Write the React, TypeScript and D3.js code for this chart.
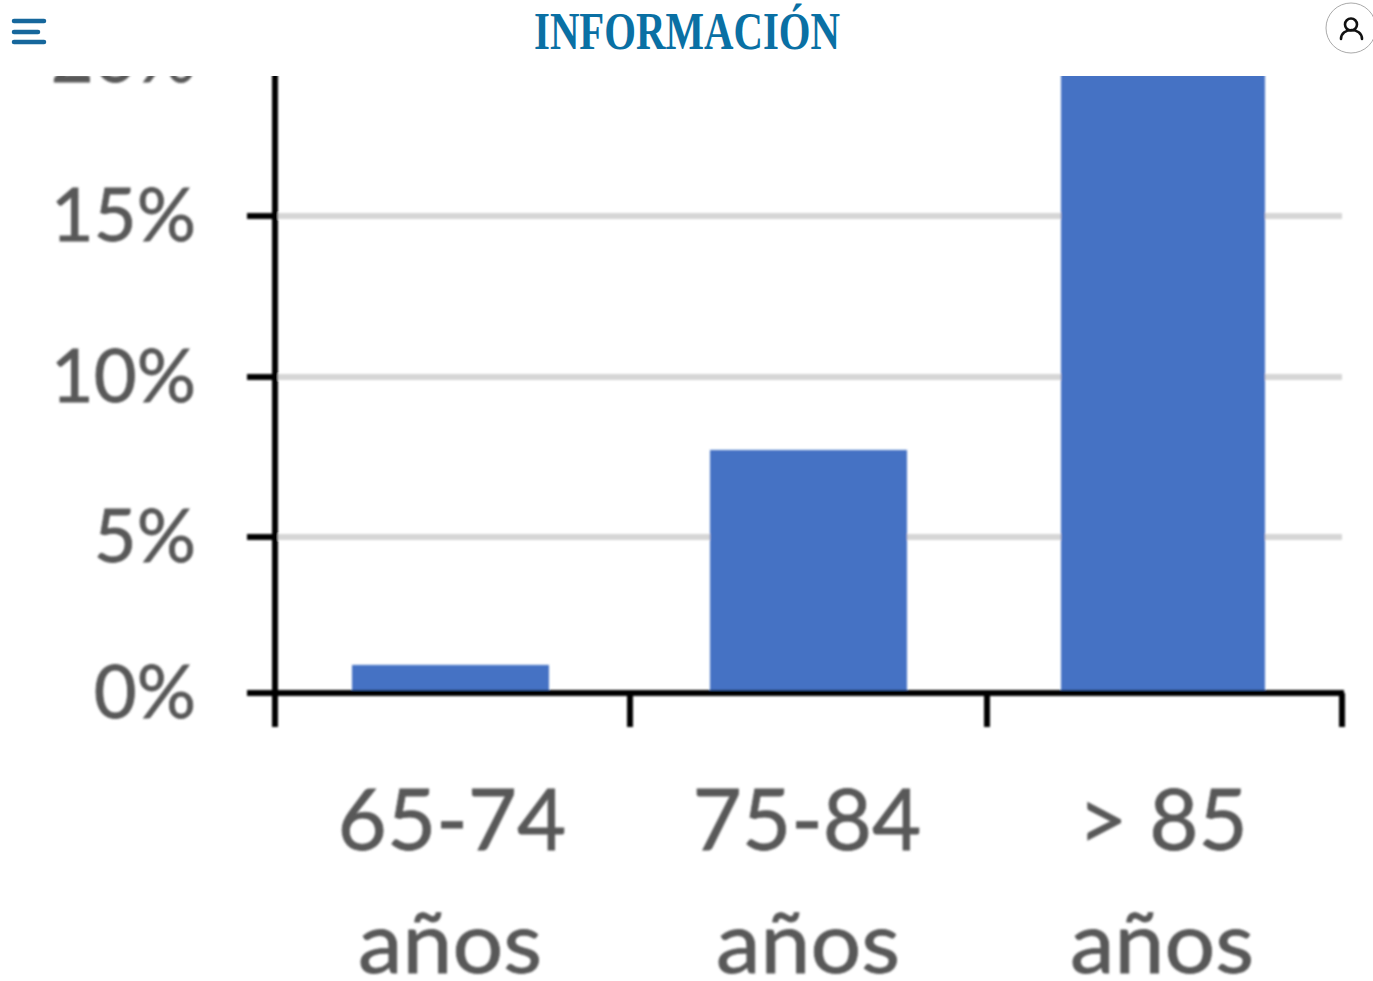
import React from "react";
import * as d3 from "d3";

const categories = ["65-74", "75-84", "> 85"];
const categorySuffix = "años";
const values = [0.9, 7.72, 24];
const yTicks = [0, 5, 10, 15, 20];

const W = 1373;
const H = 981;
const GREY = "#585858";

export default function App() {
  const edgeX = d3.scaleOrdinal<number, number>().domain([0, 1, 2, 3]).range([275, 630, 987, 1342]);
  const barLeft = d3.scaleOrdinal<string, number>().domain(categories).range([352, 710, 1061]);
  const barRight = d3.scaleOrdinal<string, number>().domain(categories).range([549, 907, 1265]);
  const labelMid = d3.scaleOrdinal<string, number>().domain(categories).range([452, 807, 1163]);
  const suffixMid = d3.scaleOrdinal<string, number>().domain(categories).range([450, 808, 1162]);
  const y = d3.scaleLinear().domain([0, 5, 10, 15, 20]).range([693, 537, 377, 216, 57]);

  return (
    <svg width={W} height={H} viewBox={`0 0 ${W} ${H}`} style={{ position: "fixed", left: 0, top: 0, background: "#fff", display: "block" }}>
      <defs>
        <filter id="soft" x="-5%" y="-5%" width="110%" height="110%">
          <feGaussianBlur stdDeviation="1" />
        </filter>
      </defs>
      <g filter="url(#soft)">
        {yTicks.filter((t) => t > 0).map((t) => (
          <line key={t} x1={275} x2={1342} y1={y(t)} y2={y(t)} stroke="#d6d6d6" strokeWidth={6} />
        ))}
        {categories.map((c, i) => (
          <rect key={c} x={barLeft(c)} width={barRight(c) - barLeft(c)} y={y(values[i])} height={y(0) - y(values[i])} fill="#4472c4" />
        ))}
        <line x1={275} x2={275} y1={0} y2={727} stroke="#000" strokeWidth={6} />
        <line x1={247} x2={1344} y1={y(0)} y2={y(0)} stroke="#000" strokeWidth={6} />
        {yTicks.map((t) => (
          <line key={t} x1={247} x2={275} y1={y(t)} y2={y(t)} stroke="#000" strokeWidth={6} />
        ))}
        {[0, 1, 2, 3].map((e) => (
          <line key={e} x1={edgeX(e)} x2={edgeX(e)} y1={693} y2={727} stroke="#000" strokeWidth={6} />
        ))}
        {yTicks.map((t) => (
          <text key={t} x={196} y={y(t) + 25} textAnchor="end" fontFamily="Lato" fontSize={74} fill={GREY} stroke={GREY} strokeWidth={0.8}>
            {t}%
          </text>
        ))}
        {categories.map((c) => (
          <g key={c} fontFamily="Lato" fill={GREY} stroke={GREY} strokeWidth={0.8}>
            <text x={labelMid(c)} y={850} textAnchor="middle" fontSize={85}>{c}</text>
            <text x={suffixMid(c) - 92} y={973} fontSize={85} textLength={184} lengthAdjust="spacingAndGlyphs">{categorySuffix}</text>
          </g>
        ))}
      </g>
      <rect x={0} y={0} width={W} height={76} fill="#fff" />
      <g stroke="#16679c" strokeWidth={4.5} strokeLinecap="round">
        <line x1={14} x2={44} y1={21} y2={21} />
        <line x1={14} x2={38} y1={32} y2={32} />
        <line x1={14} x2={44} y1={42} y2={42} />
      </g>
      <text x={534} y={49} fontFamily="Liberation Serif" fontWeight={700} fontSize={52} fill="#0a70a4" textLength={306} lengthAdjust="spacingAndGlyphs">
        INFORMACIÓN
      </text>
      <circle cx={1351} cy={28} r={25} fill="#fff" stroke="#aaa" strokeWidth={1} />
      <g fill="none" stroke="#111" strokeWidth={2.6} strokeLinecap="round">
        <circle cx={1351} cy={24.5} r={6} />
        <path d="M1341 39 C1341 27 1362 27 1362 39" />
      </g>
    </svg>
  );
}
